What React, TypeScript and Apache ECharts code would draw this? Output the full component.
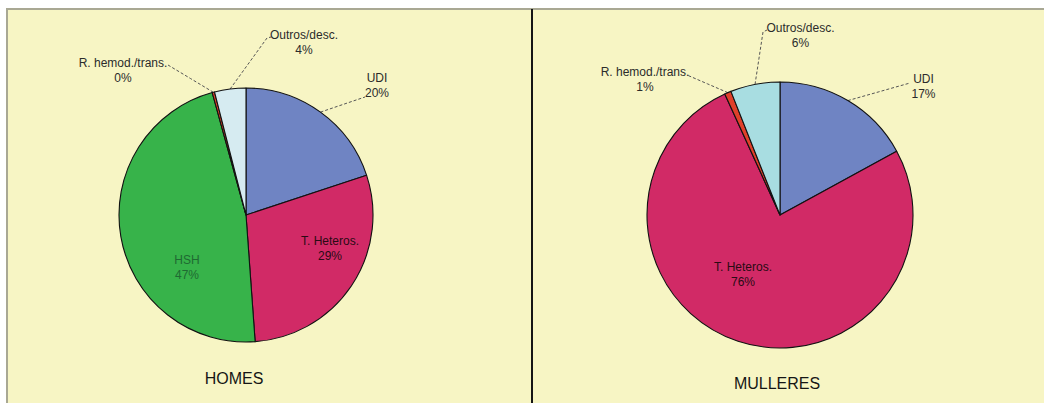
import React, { useEffect, useRef } from 'react';
import * as echarts from 'echarts';

// ---- data ----
const panelTitles = ['HOMES', 'MULLERES'];
const homesCategories = ['UDI', 'T. Heteros.', 'HSH', 'R. hemod./trans.', 'Outros/desc.'];
const homesValues = [20, 29, 47, 0.3, 4];
const mulleresCategories = ['UDI', 'T. Heteros.', 'R. hemod./trans.', 'Outros/desc.'];
const mulleresValues = [17, 76, 0.8, 6];

// ---- styling / layout ----
const FONT = '"Liberation Sans", Arial, sans-serif';
const BG = '#F7F5C4';
const CENTERS: number[][] = [[246, 215], [780, 215]];
const RADII = [127, 133];

const colorsHomes: Record<string, string> = {
  'UDI': '#6F84C3',
  'T. Heteros.': '#D12A66',
  'HSH': '#37B34A',
  'R. hemod./trans.': '#E0402A',
  'Outros/desc.': '#D6EBF1',
};
const colorsMulleres: Record<string, string> = {
  'UDI': '#6F84C3',
  'T. Heteros.': '#D12A66',
  'R. hemod./trans.': '#E0402A',
  'Outros/desc.': '#A8DDE1',
};
const labelColors: Record<string, string> = {
  'HSH': '#1F6A32',
  'T. Heteros.': '#2A0A14',
};
const insideNames = ['T. Heteros.', 'HSH'];

// label centre offsets relative to pie centre, and label-line bend points
type Spot = { label: number[]; line?: number[][] };
const labelSpots: Record<string, Spot>[] = [
  {
    'UDI': { label: [131, -129.5], line: [[119, -118]] },
    'T. Heteros.': { label: [84, 33] },
    'HSH': { label: [-59, 52] },
    'R. hemod./trans.': { label: [-123, -144.5], line: [[-78, -150]] },
    'Outros/desc.': { label: [58, -172.5], line: [[21, -177], [25, -178]] },
  },
  {
    'UDI': { label: [143.5, -128.5], line: [[130, -132]] },
    'T. Heteros.': { label: [-37, 59] },
    'R. hemod./trans.': { label: [-135, -135.5], line: [[-93, -140]] },
    'Outros/desc.': { label: [20.5, -179.5], line: [[-17, -183], [-13, -185]] },
  },
];

function buildData(cats: string[], vals: number[], colors: Record<string, string>) {
  return cats.map((name, i) => {
    const inside = insideNames.includes(name);
    return {
      name,
      value: vals[i],
      itemStyle: { color: colors[name] },
      label: {
        position: inside ? 'inside' : 'outside',
        color: labelColors[name] || '#2b2b2b',
      },
      labelLine: { show: !inside },
    };
  });
}

function makeLabelLayout(si: number, cats: string[]) {
  return (params: any) => {
    const name = cats[params.dataIndex];
    const spot = labelSpots[si][name];
    if (!spot) return {};
    const c = CENTERS[si];
    const res: any = {
      x: c[0] + spot.label[0],
      y: c[1] + spot.label[1],
      align: 'center',
      verticalAlign: 'middle',
    };
    if (spot.line && params.labelLinePoints && params.labelLinePoints[0]) {
      const p0 = params.labelLinePoints[0];
      const pts = spot.line.map((p) => [c[0] + p[0], c[1] + p[1]]);
      if (pts.length === 1) {
        const mid = [(p0[0] + pts[0][0]) / 2, (p0[1] + pts[0][1]) / 2];
        res.labelLinePoints = [[p0[0], p0[1]], mid, pts[0]];
      } else {
        res.labelLinePoints = [[p0[0], p0[1]], pts[0], pts[1]];
      }
    }
    return res;
  };
}

function makeSeries(idx: number, cats: string[], vals: number[], colors: Record<string, string>) {
  return {
    type: 'pie',
    center: CENTERS[idx],
    radius: RADII[idx],
    startAngle: 90,
    clockwise: true,
    avoidLabelOverlap: false,
    minAngle: 0,
    itemStyle: { borderColor: '#111', borderWidth: 1.1 },
    label: {
      show: true,
      fontFamily: FONT,
      fontSize: 12,
      lineHeight: 15,
      formatter: (p: any) => `${p.name}\n${Math.round(p.value)}%`,
    },
    labelLine: {
      show: true,
      lineStyle: { color: '#555', width: 1, type: [3, 2] },
    },
    labelLayout: makeLabelLayout(idx, cats),
    emphasis: { disabled: true },
    data: buildData(cats, vals, colors),
  };
}

export default function App() {
  const ref = useRef<HTMLDivElement>(null);

  useEffect(() => {
    if (!ref.current) return;
    const chart = echarts.init(ref.current, undefined, { renderer: 'svg' });
    const option: any = {
      animation: false,
      backgroundColor: '#ffffff',
      textStyle: { fontFamily: FONT },
      graphic: [
        {
          type: 'rect',
          z: -10,
          shape: { x: 7, y: 9, width: 1060, height: 420 },
          style: { fill: BG, stroke: '#A9A893', lineWidth: 2 },
        },
        {
          type: 'line',
          z: -9,
          shape: { x1: 532, y1: 9, x2: 532, y2: 403 },
          style: { stroke: '#151515', lineWidth: 2 },
        },
      ],
      title: [
        {
          text: panelTitles[0],
          left: 234,
          top: 370,
          textAlign: 'center',
          padding: 0,
          textStyle: { fontFamily: FONT, fontSize: 16, fontWeight: 'normal', color: '#151515' },
        },
        {
          text: panelTitles[1],
          left: 777,
          top: 375,
          textAlign: 'center',
          padding: 0,
          textStyle: { fontFamily: FONT, fontSize: 16, fontWeight: 'normal', color: '#151515' },
        },
      ],
      series: [
        makeSeries(0, homesCategories, homesValues, colorsHomes),
        makeSeries(1, mulleresCategories, mulleresValues, colorsMulleres),
      ],
    };
    chart.setOption(option);
    return () => chart.dispose();
  }, []);

  return (
    <div
      ref={ref}
      style={{ position: 'absolute', left: 0, top: 0, width: 1044, height: 403 }}
    />
  );
}
